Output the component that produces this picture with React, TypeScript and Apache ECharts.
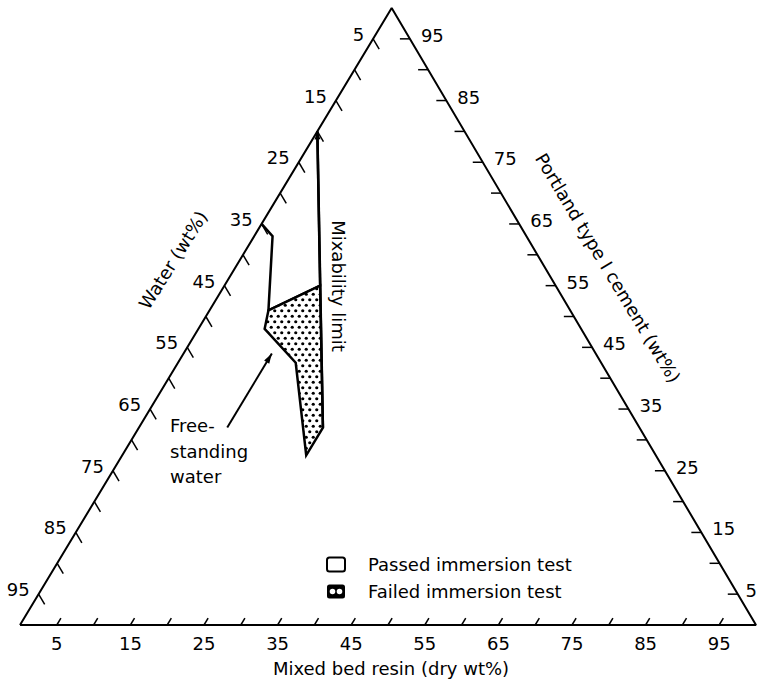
import React, { useEffect, useRef } from "react";
import * as echarts from "echarts";

// Ternary compositions in wt%: water, Portland cement, mixed bed resin
const tickValues = [5, 10, 15, 20, 25, 30, 35, 40, 45, 50, 55, 60, 65, 70, 75, 80, 85, 90, 95];
const labelValues = [5, 15, 25, 35, 45, 55, 65, 75, 85, 95];

// Passed immersion test region (outlined); last vertex lies on the water-cement edge
const passedWater = [35, 34.5, 41, 32, 20];
const passedCement = [65, 63, 51, 55, 80];
const passedResin = [0, 2.5, 8, 13, 0];

// Failed immersion test region (dotted)
const failedWater = [41, 32, 43, 47.5, 41.5, 43];
const failedCement = [51, 55, 32, 27.5, 42.5, 48];
const failedResin = [8, 13, 25, 25, 16, 9];

// Mixability limit line (bottom -> top, arrow at top)
const mixWater = [43, 20];
const mixCement = [32, 80];
const mixResin = [25, 0];

// Free-standing water pointer (tail -> head)
const arrowWater = [56, 44];
const arrowCement = [32, 44];
const arrowResin = [12, 12];

const FONT = "DejaVu Sans";
const SKEW = 0.505; // apex horizontal position as fraction of base

function toXY(w: number, c: number, r: number): number[] {
  const s = w + c + r;
  return [((r + c * SKEW) / s) * 100, (c / s) * 100];
}

function tickPoint(axis: number, v: number): number[] {
  if (axis === 0) return toXY(100 - v, 0, v); // resin, bottom
  if (axis === 1) return toXY(v, 100 - v, 0); // water, left
  return toXY(0, v, 100 - v); // cement, right
}

function unit(a: number[], b: number[]): number[] {
  const dx = b[0] - a[0];
  const dy = b[1] - a[1];
  const l = Math.sqrt(dx * dx + dy * dy) || 1;
  return [dx / l, dy / l];
}

function arrowHead(tip: number[], from: number[], len: number, hw: number): number[][] {
  const d = unit(from, tip);
  const n = [-d[1], d[0]];
  const bx = tip[0] - d[0] * len;
  const by = tip[1] - d[1] * len;
  return [tip, [bx + n[0] * hw, by + n[1] * hw], [bx - n[0] * hw, by - n[1] * hw]];
}

export default function App() {
  const ref = useRef<HTMLDivElement>(null);

  useEffect(() => {
    if (!ref.current) return;
    const chart = echarts.init(ref.current, undefined, { renderer: "svg" });

    const cv = document.createElement("canvas");
    cv.width = 7;
    cv.height = 11;
    const ctx = cv.getContext("2d");
    if (ctx) {
      ctx.fillStyle = "#fff";
      ctx.fillRect(0, 0, 7, 11);
      ctx.fillStyle = "#000";
      ctx.beginPath();
      ctx.arc(1.75, 2.75, 1.6, 0, Math.PI * 2);
      ctx.fill();
      ctx.beginPath();
      ctx.arc(5.25, 8.25, 1.6, 0, Math.PI * 2);
      ctx.fill();
    }
    const dotPattern: any = { image: cv, repeat: "repeat" };

    const BL = toXY(100, 0, 0);
    const BR = toXY(0, 0, 100);
    const AP = toXY(0, 100, 0);

    const tickData: number[][] = [];
    [0, 1, 2].forEach((a) => tickValues.forEach((v) => tickData.push([a, v])));
    const labelData: number[][] = [];
    [0, 1, 2].forEach((a) => labelValues.forEach((v) => labelData.push([a, v])));

    const passedPts = passedWater.map((w, i) => toXY(w, passedCement[i], passedResin[i]));
    const failedPts = failedWater.map((w, i) => toXY(w, failedCement[i], failedResin[i]));
    const mixPts = mixWater.map((w, i) => toXY(w, mixCement[i], mixResin[i]));
    const arrPts = arrowWater.map((w, i) => toXY(w, arrowCement[i], arrowResin[i]));

    const textStyle = (t: string, extra: any = {}) => ({
      text: t,
      fill: "#000",
      fontFamily: FONT,
      fontSize: 18,
      align: "center",
      verticalAlign: "middle",
      ...extra,
    });

    const option: any = {
      animation: false,
      grid: { left: 20, top: 8, width: 736, height: 617 },
      xAxis: { type: "value", min: 0, max: 100, show: false },
      yAxis: { type: "value", min: 0, max: 100, show: false },
      legend: {
        orient: "vertical",
        left: 321,
        top: 549,
        itemWidth: 18,
        itemHeight: 15,
        itemGap: 6,
        selectedMode: false,
        textStyle: {
          fontFamily: FONT,
          fontSize: 18,
          color: "#000",
          lineHeight: 21,
          padding: [0, 0, 0, 18],
        },
        data: [
          {
            name: "Passed immersion test",
            icon: "path://M2.5 0H15.5Q18 0 18 2.5V11.5Q18 14 15.5 14H2.5Q0 14 0 11.5V2.5Q0 0 2.5 0Z",
            itemStyle: { color: "#fff", borderColor: "#000", borderWidth: 2 },
          },
          {
            name: "Failed immersion test",
            icon:
              "path://M2.5 0H15.5Q18 0 18 2.5V11.5Q18 14 15.5 14H2.5Q0 14 0 11.5V2.5Q0 0 2.5 0ZM5.5 4.2A2.8 2.8 0 1 0 5.5 9.8A2.8 2.8 0 1 0 5.5 4.2ZM12.5 4.2A2.8 2.8 0 1 0 12.5 9.8A2.8 2.8 0 1 0 12.5 4.2Z",
            itemStyle: { color: "#000", borderWidth: 0 },
          },
        ],
      },
      graphic: [
        {
          type: "text",
          x: 338,
          y: 286,
          rotation: -Math.PI / 2,
          style: textStyle("Mixability limit"),
        },
        {
          type: "text",
          x: 173,
          y: 260,
          rotation: (58 * Math.PI) / 180,
          style: textStyle("Water (wt%)"),
        },
        {
          type: "text",
          x: 608,
          y: 268,
          rotation: (-59 * Math.PI) / 180,
          style: textStyle("Portland type I cement (wt%)"),
        },
        {
          type: "text",
          x: 391,
          y: 668,
          style: textStyle("Mixed bed resin (dry wt%)"),
        },
        {
          type: "text",
          x: 170,
          y: 425,
          style: textStyle("Free-", { align: "left" }),
        },
        {
          type: "text",
          x: 170,
          y: 451,
          style: textStyle("standing", { align: "left" }),
        },
        {
          type: "text",
          x: 170,
          y: 476,
          style: textStyle("water", { align: "left" }),
        },
      ],
      series: [
        {
          name: "frame",
          type: "line",
          data: [BL, BR, AP, BL],
          symbol: "none",
          silent: true,
          lineStyle: { color: "#000", width: 2 },
          z: 5,
        },
        {
          name: "ticks",
          type: "custom",
          silent: true,
          data: tickData,
          renderItem: (params: any, api: any) => {
            const axis = api.value(0);
            const v = api.value(1);
            const p = api.coord(tickPoint(axis, v));
            const bl = api.coord(BL);
            const br = api.coord(BR);
            const ap = api.coord(AP);
            let d: number[];
            if (axis === 0) d = unit(bl, ap);
            else if (axis === 1) d = unit(ap, br);
            else d = [-1, 0];
            const len = [8, 12, 10][axis];
            return {
              type: "line",
              shape: { x1: p[0], y1: p[1], x2: p[0] + d[0] * len, y2: p[1] + d[1] * len },
              style: { stroke: "#000", lineWidth: 1.5 },
            };
          },
          z: 5,
        },
        {
          name: "tickLabels",
          type: "custom",
          silent: true,
          data: labelData,
          renderItem: (params: any, api: any) => {
            const axis = api.value(0);
            const v = api.value(1);
            const p = api.coord(tickPoint(axis, v));
            const w = api.getWidth();
            let x = p[0];
            let y = p[1];
            let align = "center";
            if (axis === 0) {
              y += 18;
            } else if (axis === 1) {
              x -= 9;
              y -= 4.5;
              align = "right";
            } else {
              x += 11;
              y -= 3.5;
              align = "left";
              if (x + 12 > w) {
                x = w - 1;
                align = "right";
              }
            }
            return {
              type: "text",
              x,
              y,
              style: {
                text: String(v),
                fill: "#000",
                fontFamily: FONT,
                fontSize: 18,
                align,
                verticalAlign: "middle",
              },
            };
          },
          z: 5,
        },
        {
          name: "Passed immersion test",
          type: "custom",
          data: passedPts,
          renderItem: (params: any, api: any) => {
            if (params.dataIndex !== 0) return null;
            const pts = passedPts.map((pt) => api.coord(pt));
            return {
              type: "group",
              children: [
                {
                  type: "polygon",
                  shape: { points: pts },
                  style: { fill: "#fff" },
                },
                {
                  type: "polyline",
                  shape: { points: pts },
                  style: { fill: null, stroke: "#000", lineWidth: 2.5, lineJoin: "miter" },
                },
              ],
            };
          },
          z: 3,
        },
        {
          name: "Failed immersion test",
          type: "custom",
          data: failedPts,
          renderItem: (params: any, api: any) => {
            if (params.dataIndex !== 0) return null;
            return {
              type: "polygon",
              shape: { points: failedPts.map((pt) => api.coord(pt)) },
              style: { fill: dotPattern, stroke: "#000", lineWidth: 2.5, lineJoin: "miter" },
            };
          },
          z: 3,
        },
        {
          name: "mixability",
          type: "custom",
          silent: true,
          data: mixPts,
          renderItem: (params: any, api: any) => {
            if (params.dataIndex !== 0) return null;
            const a = api.coord(mixPts[0]);
            const b = api.coord(mixPts[1]);
            return {
              type: "group",
              children: [
                {
                  type: "line",
                  shape: { x1: a[0], y1: a[1], x2: b[0], y2: b[1] },
                  style: { stroke: "#000", lineWidth: 2.5 },
                },
                {
                  type: "polygon",
                  shape: { points: arrowHead(b, a, 8, 3) },
                  style: { fill: "#000" },
                },
              ],
            };
          },
          z: 4,
        },
        {
          name: "pointer",
          type: "custom",
          silent: true,
          data: arrPts,
          renderItem: (params: any, api: any) => {
            if (params.dataIndex !== 0) return null;
            const a = api.coord(arrPts[0]);
            const b = api.coord(arrPts[1]);
            const head = arrowHead(b, a, 10, 3);
            return {
              type: "group",
              children: [
                {
                  type: "line",
                  shape: { x1: a[0], y1: a[1], x2: b[0], y2: b[1] },
                  style: { stroke: "#000", lineWidth: 2 },
                },
                {
                  type: "polygon",
                  shape: { points: head },
                  style: { fill: "#000" },
                },
              ],
            };
          },
          z: 4,
        },
      ],
    };

    chart.setOption(option);
    return () => {
      chart.dispose();
    };
  }, []);

  return (
    <div
      ref={ref}
      style={{ position: "absolute", left: 0, top: 0, width: 758, height: 684, background: "#fff" }}
    />
  );
}
